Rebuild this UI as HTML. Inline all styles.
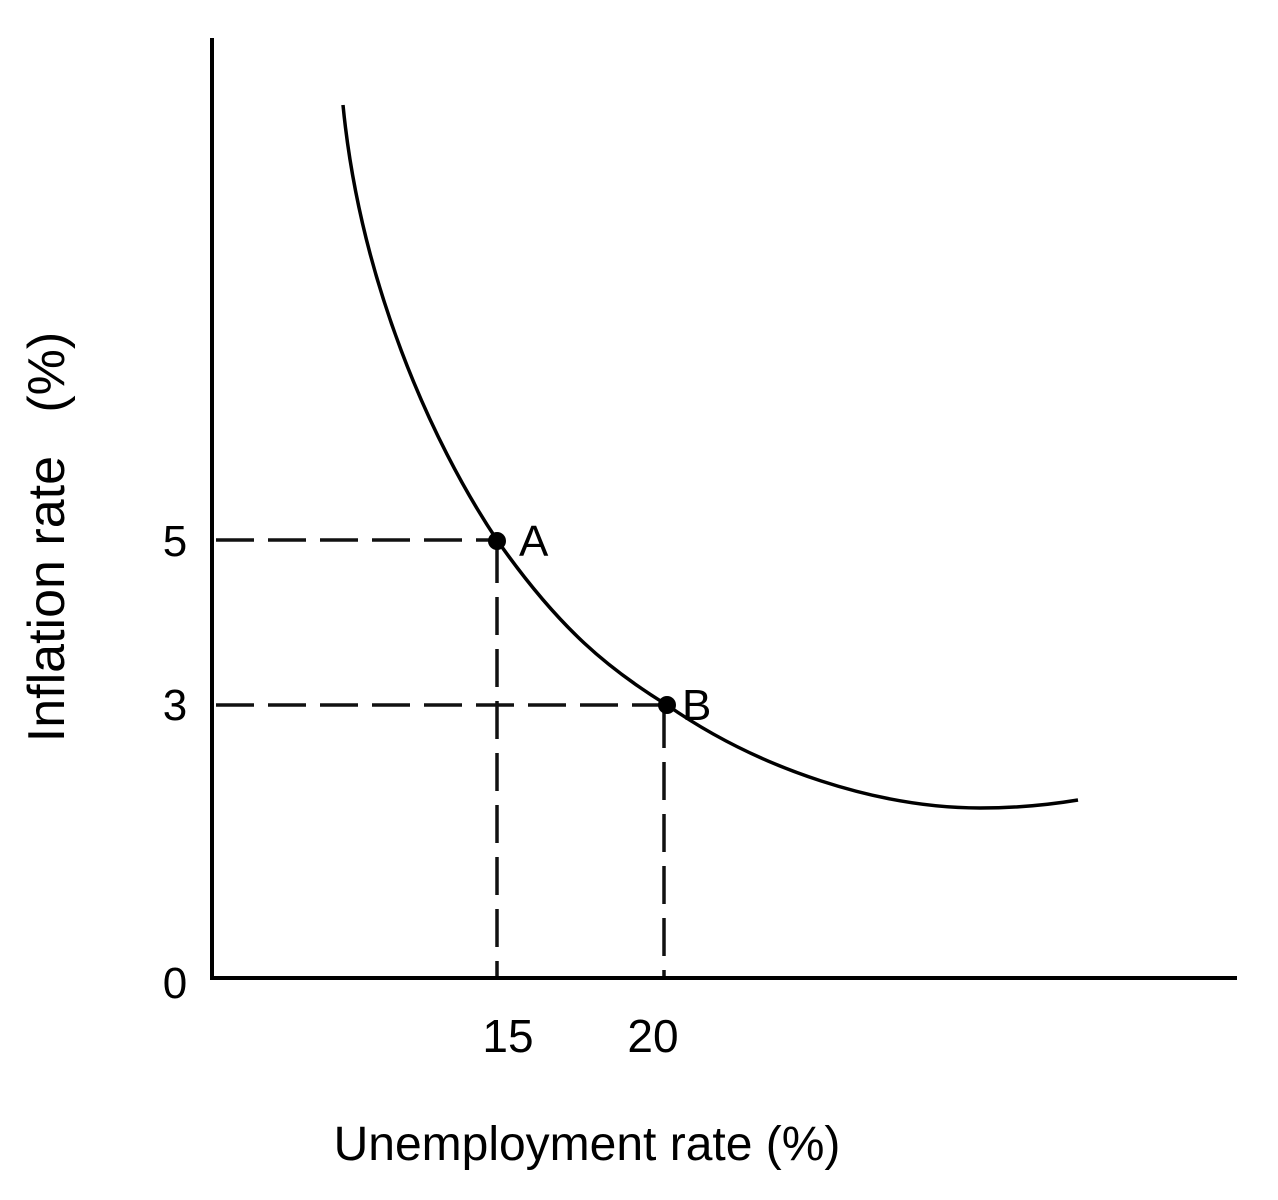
<!DOCTYPE html>
<html><head><style>body{margin:0;background:#fff}svg{display:block}</style></head>
<body>
<svg width="1278" height="1200" viewBox="0 0 1278 1200" xmlns="http://www.w3.org/2000/svg">
<g stroke="#000" fill="none">
<line x1="212" y1="38" x2="212" y2="980" stroke-width="4"/>
<line x1="210" y1="978" x2="1237" y2="978" stroke-width="4"/>
<g stroke-width="3.5" stroke-dasharray="38 14" stroke="#111">
<line x1="216" y1="540" x2="497" y2="540"/>
<line x1="216" y1="705" x2="667" y2="705"/>
<line x1="497" y1="545" x2="497" y2="976"/>
<line x1="664" y1="710" x2="664" y2="976"/>
</g>
<path d="M343,105 C360,280 430,440 497,540 C560,630 610,670 667,705 C760,770 880,808 980,808 Q1030,808 1078,800" stroke-width="3.5"/>
</g>
<circle cx="497" cy="541" r="9" fill="#000"/>
<circle cx="667" cy="705" r="9" fill="#000"/>
<g font-family="Liberation Sans, sans-serif" font-size="44" fill="#000">
<text x="519" y="556">A</text>
<text x="682" y="720">B</text>
<text x="175" y="556" text-anchor="middle">5</text>
<text x="175" y="720" text-anchor="middle">3</text>
<text x="175" y="998" text-anchor="middle">0</text>
<text x="508" y="1052" text-anchor="middle" font-size="46">15</text>
<text x="653" y="1052" text-anchor="middle" font-size="46">20</text>
<text x="587" y="1160" text-anchor="middle" font-size="48">Unemployment rate (%)</text>
<text transform="translate(64,537) rotate(-90)" text-anchor="middle" font-size="52" xml:space="preserve">Inflation rate   (%)</text>
</g>
</svg>
</body></html>
